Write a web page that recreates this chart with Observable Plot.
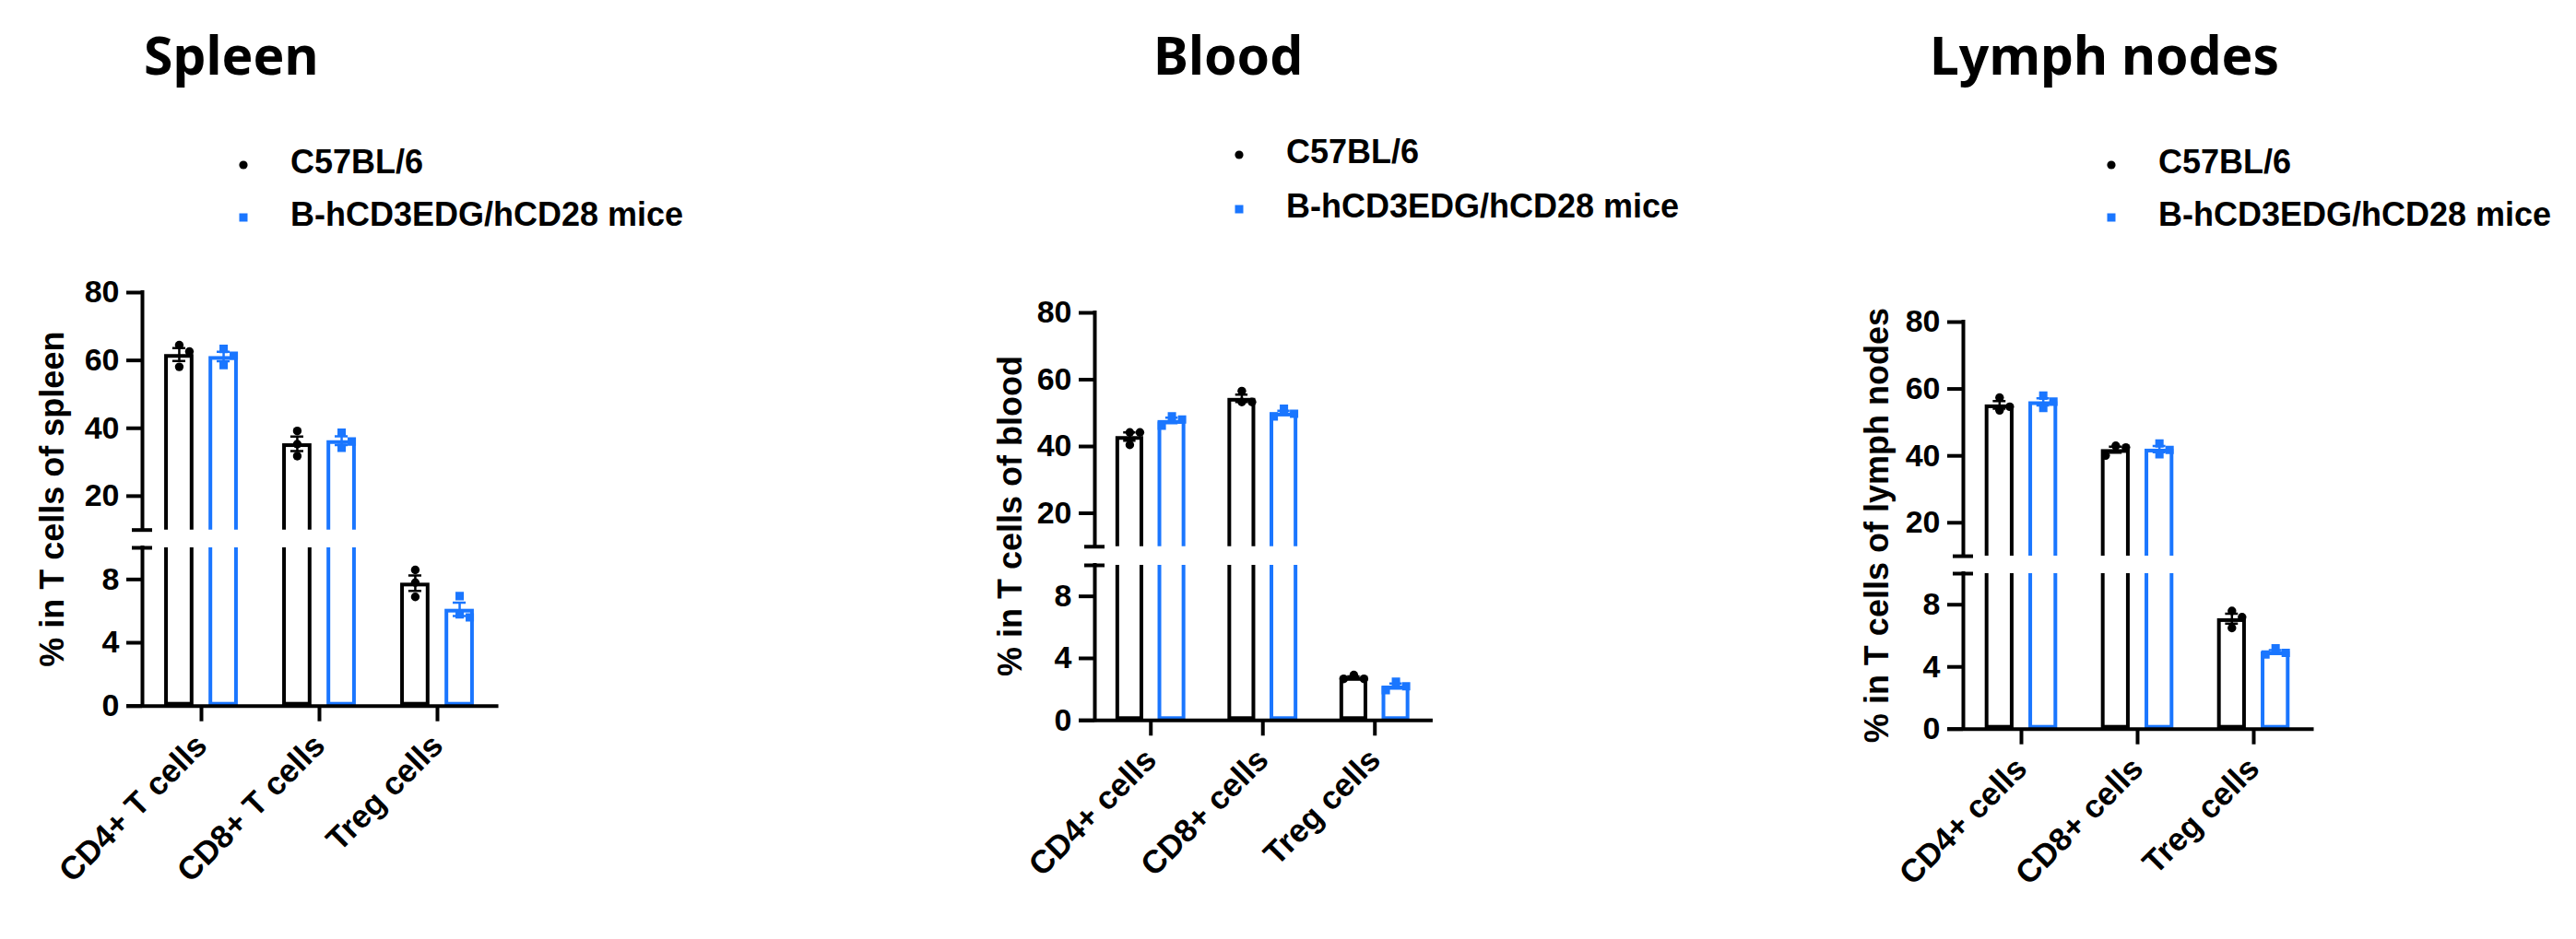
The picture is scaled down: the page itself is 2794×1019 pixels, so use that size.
<!DOCTYPE html>
<html><head><meta charset="utf-8">
<script src="https://cdn.jsdelivr.net/npm/d3@7"></script>
<script src="https://cdn.jsdelivr.net/npm/@observablehq/plot@0.6"></script>
<style>
html,body{margin:0;padding:0;background:#fff;}
#page{position:relative;width:2794px;height:1019px;overflow:hidden;background:#fff;}
#page > svg{position:absolute;overflow:visible;}
[aria-label^="y-axis"] line,[aria-label^="y-axis"] path,[aria-label^="x-axis"] line,[aria-label^="x-axis"] path{stroke-width:4px;}
[aria-label^="x-axis"] text{font-size:35px;}
</style></head><body><div id="page"></div>
<script>
// ---------------- data ----------------
const groups = ["C57BL/6", "B-hCD3EDG/hCD28 mice"];
const groupColors = ["#000000", "#1a76ff"];
const tissues = ["Spleen", "Blood", "Lymph nodes"];
const yLabels = ["% in T cells of spleen", "% in T cells of blood", "% in T cells of lymph nodes"];
const spleenCategories = ["CD4+ T cells", "CD8+ T cells", "Treg cells"];
const bloodCategories = ["CD4+ cells", "CD8+ cells", "Treg cells"];
const lymphCategories = ["CD4+ cells", "CD8+ cells", "Treg cells"];
const upperTicks = [20, 40, 60, 80];
const lowerTicks = [0, 4, 8];
const upperDomain = [10, 80];
const lowerDomain = [0, 10];

// individual mice (3 per group), per category
const spleenC57   = [[62.6, 58.1, 64.5], [39.2, 35.3, 31.8], [8.6, 7.8, 6.9]];
const spleenHuman = [[61.4, 58.6, 63.4], [38.7, 36.1, 34.2], [6.95, 5.8, 5.6]];
const bloodC57    = [[44.2, 40.5, 44.2], [56.6, 53.3, 53.3], [2.93, 2.68, 2.68]];
const bloodHuman  = [[49.0, 48.1, 46.2], [51.3, 49.8, 49.0], [2.5, 2.2, 1.95]];
const lymphC57    = [[57.4, 54.7, 53.6], [43.0, 42.5, 40.1], [7.6, 7.2, 6.5]];
const lymphHuman  = [[58.0, 56.2, 54.3], [43.7, 41.8, 40.5], [5.2, 4.9, 4.8]];

// ---------------- layout (page pixels) ----------------
const layout = [
  {axisX:154,    top:317.3, brk:575,   low:594.3, zero:766, unit:128,   titleX:156,  legX:264,  legY:[175,232], labX:69},
  {axisX:1187.3, top:339.2, brk:593,   low:612.7, zero:781, unit:121.5, titleX:1251, legX:1344, legY:[164,223], labX:1108},
  {axisX:2129,   top:349.2, brk:603.3, low:622.3, zero:791, unit:126,   titleX:2093, legX:2290, legY:[175,232], labX:2048}
];
const panels = [
  {cats: spleenCategories, c57: spleenC57, hum: spleenHuman},
  {cats: bloodCategories,  c57: bloodC57,  hum: bloodHuman},
  {cats: lymphCategories,  c57: lymphC57,  hum: lymphHuman}
];

const xDomain = [-0.5, 2.52];
const barOffset = 0.188, barHalf = 0.124, capHalf = 0.055;
const ML = 140, MR = 30;
const FONT = "'Liberation Sans', Arial, Helvetica, sans-serif";
const page = document.getElementById("page");

function buildData(p, L) {
  const yUp = d3.scaleLinear(upperDomain, [L.brk, L.top]);
  const yLo = d3.scaleLinear(lowerDomain, [L.zero, L.low]);
  const ypx = v => v >= 10 ? yUp(v) : yLo(v);
  const bars = [], points = [];
  p.cats.forEach((c, i) => {
    [p.c57[i], p.hum[i]].forEach((vals, g) => {
      const pos = i + (g === 0 ? -barOffset : barOffset);
      const mean = d3.mean(vals);
      const sem = d3.deviation(vals) / Math.sqrt(vals.length);
      bars.push({group: groups[g], pos, mean, lo: mean - sem, hi: mean + sem});
      // scatter placement: descending, first free column (0, +1, -1)
      const order = d3.range(vals.length).sort((a, b) => vals[b] - vals[a]);
      const slot = [];
      for (const k of order) {
        for (const s of [0, 1, -1, 2, -2]) {
          const hit = order.some(j => slot[j] === s && Math.abs(ypx(vals[j]) - ypx(vals[k])) < 11);
          if (!hit) { slot[k] = s; break; }
        }
      }
      vals.forEach((v, k) => points.push({group: groups[g], x: pos + slot[k] * 11 / L.unit, value: v}));
    });
  });
  return {bars, points};
}

function dataMarks(bars, points) {
  return [
    Plot.rect(bars, {x1: d => d.pos - barHalf, x2: d => d.pos + barHalf, y1: 0, y2: "mean",
      fill: "white", stroke: "group", strokeWidth: 4, inset: 2, clip: true}),
    Plot.ruleX(bars, {x: "pos", y1: "lo", y2: "hi", stroke: "group", strokeWidth: 2.5, clip: true}),
    Plot.ruleY(bars, {y: "lo", x1: d => d.pos - capHalf, x2: d => d.pos + capHalf, stroke: "group", strokeWidth: 2.5, clip: true}),
    Plot.ruleY(bars, {y: "hi", x1: d => d.pos - capHalf, x2: d => d.pos + capHalf, stroke: "group", strokeWidth: 2.5, clip: true}),
    Plot.dot(points.filter(d => d.group === groups[0]), {x: "x", y: "value", r: 4.7, fill: "group", symbol: "circle", clip: true}),
    Plot.dot(points.filter(d => d.group === groups[1]), {x: "x", y: "value", r: 5.1, fill: "group", symbol: "square", clip: true})
  ];
}

const styleObj = {fontFamily: FONT, fontSize: "34px", fontWeight: "bold", color: "black", background: "transparent", overflow: "visible"};

panels.forEach((p, idx) => {
  const L = layout[idx];
  const {bars, points} = buildData(p, L);
  const width = ML + (xDomain[1] - xDomain[0]) * L.unit + MR;
  const brkHalf = 11 / L.unit, tickExt = 17 / L.unit;
  const color = {domain: groups, range: groupColors};

  // upper segment (10 – 80)
  const mtU = 20;
  const upper = Plot.plot({
    width, height: mtU + (L.brk - L.top),
    marginLeft: ML, marginRight: MR, marginTop: mtU, marginBottom: 0,
    style: styleObj,
    x: {domain: xDomain, axis: null},
    y: {domain: upperDomain, ticks: upperTicks, tickSize: 17, tickPadding: 8, label: null},
    color,
    marks: [
      ...dataMarks(bars, points),
      Plot.ruleX([xDomain[0]], {stroke: "black", strokeWidth: 4, strokeLinecap: "square"}),
      Plot.ruleY([upperDomain[0]], {x1: xDomain[0] - brkHalf, x2: xDomain[0] + brkHalf, stroke: "black", strokeWidth: 4})
    ]
  });
  upper.style.left = (L.axisX - ML) + "px";
  upper.style.top = (L.top - mtU) + "px";
  page.appendChild(upper);

  // lower segment (0 – 10)
  const mtL = 10, mbL = 250;
  const lower = Plot.plot({
    width, height: mtL + (L.zero - L.low) + mbL,
    marginLeft: ML, marginRight: MR, marginTop: mtL, marginBottom: mbL,
    style: styleObj,
    x: {domain: xDomain, ticks: [0, 1, 2], tickFormat: i => p.cats[i], tickRotate: -45, tickSize: 17, tickPadding: 20, label: null},
    y: {domain: lowerDomain, ticks: lowerTicks, tickSize: 17, tickPadding: 8, label: null},
    color,
    marks: [
      ...dataMarks(bars, points),
      Plot.ruleX([xDomain[0]], {stroke: "black", strokeWidth: 4, strokeLinecap: "square"}),
      Plot.ruleY([lowerDomain[1]], {x1: xDomain[0] - brkHalf, x2: xDomain[0] + brkHalf, stroke: "black", strokeWidth: 4}),
      Plot.ruleY([lowerDomain[0]], {x1: xDomain[0] - tickExt, x2: xDomain[1], stroke: "black", strokeWidth: 4})
    ]
  });
  lower.style.left = (L.axisX - ML) + "px";
  lower.style.top = (L.low - mtL) + "px";
  page.appendChild(lower);
});

// ---------------- titles, legends, axis titles ----------------
const ov = d3.select(page).append("svg")
  .attr("width", 2794).attr("height", 1019)
  .style("left", "0px").style("top", "0px").style("pointer-events", "none");

layout.forEach((L, idx) => {
  ov.append("text").attr("x", L.titleX).attr("y", 81)
    .style("font-family", "'Noto Sans', 'Open Sans', sans-serif").style("font-weight", 700).style("font-size", "57px")
    .text(tissues[idx]);
  groups.forEach((g, k) => {
    const cy = L.legY[k];
    if (k === 0) ov.append("circle").attr("cx", L.legX).attr("cy", cy + 4).attr("r", 4.6).attr("fill", groupColors[k]);
    else ov.append("rect").attr("x", L.legX - 4.5).attr("y", cy + 4 - 4.5).attr("width", 9).attr("height", 9).attr("fill", groupColors[k]);
    ov.append("text").attr("x", L.legX + 51).attr("y", cy + 13)
      .style("font-family", FONT).style("font-weight", "bold").style("font-size", "36px")
      .text(g);
  });
  ov.append("text")
    .attr("transform", `translate(${L.labX},${(L.top + L.zero) / 2}) rotate(-90)`)
    .attr("text-anchor", "middle")
    .style("font-family", FONT).style("font-weight", "bold").style("font-size", "36px")
    .text(yLabels[idx]);
});
</script></body></html>
